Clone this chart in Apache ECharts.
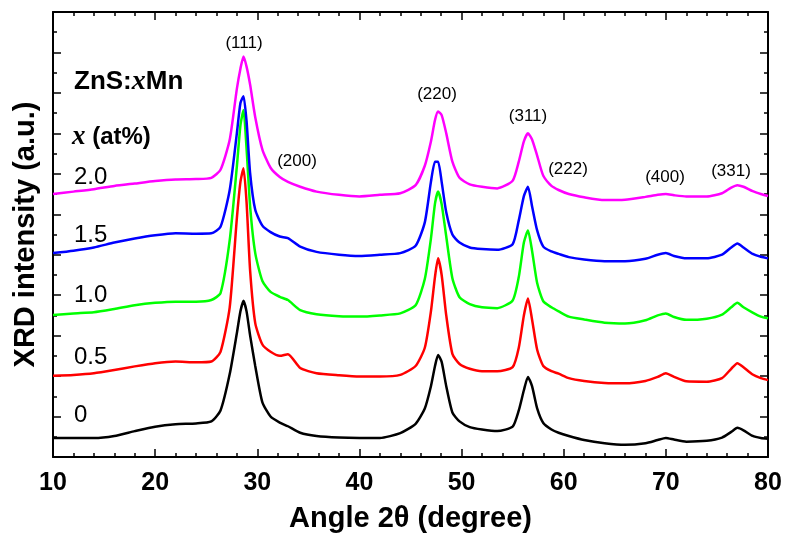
<!DOCTYPE html>
<html>
<head>
<meta charset="utf-8">
<script src="https://cdn.jsdelivr.net/npm/echarts@6/dist/echarts.min.js"></script>
<style>
	html, body { margin: 0; padding: 0; background: #fff; }
	#container { width: 788px; height: 541px; }
</style>
</head>
<body>
<div id="container"></div>
<script>
// 2θ 采样点 (degree)
var angles = [10, 12, 14, 16, 18, 20, 22, 24, 25.5, 26.4, 27.3, 28.0, 28.35, 28.65, 28.95, 29.3, 29.8, 30.5, 31.3, 32.2, 33.0, 34.2, 35.8, 38, 40,
	42, 44, 45.5, 46.4, 47.0, 47.4, 47.7, 48.05, 48.5, 49.1, 49.8, 50.8, 52, 53.5, 55.0, 55.6, 56.1, 56.5, 56.9, 57.4, 58.0, 58.8, 59.5, 60.5,
	62, 64, 66, 68, 69.2, 70.0, 70.8, 72, 74, 75.5, 76.4, 77.0, 77.6, 78.5, 79.3, 80];

// 各样品强度 (已加偏移, a.u.)
var mn0 = [0.47, 0.47, 0.47, 0.52, 0.64, 0.75, 0.81, 0.83, 0.88, 1.15, 2.05, 3.06, 3.6, 3.86, 3.6, 3.0, 2.25, 1.35, 1.0, 0.85, 0.76, 0.6, 0.52, 0.48, 0.47,
	0.47, 0.59, 0.82, 1.2, 1.75, 2.25, 2.52, 2.35, 1.75, 1.1, 0.88, 0.74, 0.68, 0.64, 0.75, 1.15, 1.65, 1.98, 1.75, 1.2, 0.84, 0.68, 0.6, 0.52,
	0.42, 0.34, 0.30, 0.34, 0.42, 0.47, 0.43, 0.38, 0.40, 0.48, 0.62, 0.72, 0.66, 0.52, 0.47, 0.45];
var mn05 = [2.01, 2.03, 2.07, 2.15, 2.24, 2.32, 2.36, 2.34, 2.36, 2.6, 3.7, 5.9, 6.8, 7.14, 6.3, 4.6, 3.31, 2.78, 2.6, 2.5, 2.54, 2.2, 2.07, 2.02, 1.99,
	1.99, 2.03, 2.25, 2.7, 3.6, 4.46, 4.91, 4.5, 3.5, 2.55, 2.3, 2.18, 2.12, 2.12, 2.22, 2.7, 3.5, 3.92, 3.4, 2.65, 2.25, 2.12, 2.06, 1.95,
	1.88, 1.83, 1.82, 1.88, 1.98, 2.07, 1.98, 1.87, 1.86, 1.95, 2.18, 2.32, 2.22, 2.04, 1.95, 1.9];
var mn10 = [3.51, 3.55, 3.58, 3.66, 3.75, 3.81, 3.84, 3.84, 3.88, 4.05, 5.36, 7.18, 8.2, 8.58, 7.62, 6.19, 5.04, 4.35, 4.08, 3.96, 3.88, 3.63, 3.53, 3.48, 3.47,
	3.5, 3.55, 3.75, 4.4, 5.4, 6.27, 6.56, 6.25, 5.45, 4.42, 3.95, 3.78, 3.7, 3.68, 3.87, 4.45, 5.3, 5.6, 5.1, 4.3, 3.85, 3.7, 3.6, 3.47,
	3.4, 3.32, 3.3, 3.38, 3.5, 3.55, 3.46, 3.39, 3.42, 3.52, 3.7, 3.81, 3.7, 3.57, 3.47, 3.43];
var mn15 = [5.04, 5.1, 5.18, 5.3, 5.4, 5.48, 5.53, 5.52, 5.53, 5.69, 6.6, 8.0, 8.75, 8.92, 8.3, 7.01, 6.11, 5.72, 5.56, 5.45, 5.41, 5.2, 5.07, 5.0, 4.97,
	5.0, 5.04, 5.22, 5.8, 6.8, 7.3, 7.3, 6.8, 6.05, 5.5, 5.3, 5.18, 5.14, 5.12, 5.26, 5.85, 6.45, 6.68, 6.2, 5.6, 5.2, 5.08, 5.02, 4.94,
	4.88, 4.84, 4.84, 4.9, 5.0, 5.04, 4.97, 4.91, 4.91, 5.0, 5.18, 5.28, 5.18, 5.02, 4.95, 4.91];
var mn20 = [6.5, 6.56, 6.62, 6.7, 6.76, 6.82, 6.86, 6.87, 6.9, 7.1, 7.84, 9.1, 9.6, 9.9, 9.65, 9.2, 8.4, 7.6, 7.15, 6.92, 6.8, 6.68, 6.56, 6.48, 6.44,
	6.48, 6.52, 6.72, 7.2, 7.8, 8.33, 8.54, 8.45, 8.0, 7.3, 6.9, 6.74, 6.68, 6.64, 6.83, 7.3, 7.8, 8.0, 7.85, 7.45, 6.95, 6.7, 6.6, 6.5,
	6.42, 6.35, 6.36, 6.43, 6.48, 6.5, 6.47, 6.44, 6.44, 6.52, 6.66, 6.72, 6.68, 6.57, 6.5, 6.45];

var sampleNames = ['0', '0.5', '1.0', '1.5', '2.0'];
var peakNames = ['(111)', '(200)', '(220)', '(311)', '(222)', '(400)', '(331)'];
var xTicks = [10, 20, 30, 40, 50, 60, 70, 80];

(function() {
	var myChart = echarts.init(document.getElementById('container'));
	var font = 'Liberation Sans, Arial, sans-serif';
	var colors = ['#000000', '#ff0000', '#00ff00', '#0000ff', '#ff00ff'];
	var curves = [mn0, mn05, mn10, mn15, mn20];

	// 组装曲线
	var series = curves.map(function(ys, i) {
		return {
			name: sampleNames[i],
			type: 'line',
			data: angles.map(function(a, k) { return [a, ys[k]]; }),
			showSymbol: false,
			smooth: 0.2,
			lineStyle: { color: colors[i], width: 2.5 },
			itemStyle: { color: colors[i] },
			z: 2 + i
		};
	});

	// 文字标注 (像素位置)
	var peakPos = [[244, 43], [297, 161], [437, 94], [528, 116], [568, 169], [665, 177], [731, 171]];
	var namePos = [415, 357, 295, 235, 177];
	var graphic = [];
	peakNames.forEach(function(t, i) {
		graphic.push({
			type: 'text', x: peakPos[i][0], y: peakPos[i][1],
			style: { text: t, font: '17px ' + font, fill: '#000', align: 'center', verticalAlign: 'middle' }
		});
	});
	sampleNames.forEach(function(t, i) {
		graphic.push({
			type: 'text', x: 74, y: namePos[i],
			style: { text: t, font: '24px ' + font, fill: '#000', align: 'left', verticalAlign: 'middle' }
		});
	});
	graphic.push({
		type: 'text', x: 74, y: 82,
		style: {
			text: '{b|ZnS:}{i|x}{b|Mn}', align: 'left', verticalAlign: 'middle',
			rich: {
				b: { font: 'bold 26px ' + font, fill: '#000' },
				i: { font: 'italic bold 28px Liberation Serif, serif', fill: '#000' }
			}
		}
	});
	graphic.push({
		type: 'text', x: 72, y: 137,
		style: {
			text: '{i|x}{b| (at%)}', align: 'left', verticalAlign: 'middle',
			rich: {
				b: { font: 'bold 24px ' + font, fill: '#000' },
				i: { font: 'italic bold 27px Liberation Serif, serif', fill: '#000' }
			}
		}
	});

	var axisLine = { show: true, onZero: false, lineStyle: { color: '#000', width: 2 } };
	var option = {
		animation: false,
		backgroundColor: '#fff',
		grid: { left: 53, right: 20, top: 12, bottom: 84, containLabel: false, outerBoundsMode: 'none' },
		xAxis: [{
			type: 'value', min: xTicks[0], max: xTicks[xTicks.length - 1], interval: 10,
			name: 'Angle 2θ (degree)', nameLocation: 'middle', nameGap: 47,
			nameTextStyle: { fontFamily: font, fontWeight: 'bold', fontSize: 29, color: '#000' },
			axisLine: axisLine,
			axisTick: { inside: true, length: 8, lineStyle: { color: '#000', width: 1.5 } },
			minorTick: { show: true, splitNumber: 5, length: 4, lineStyle: { color: '#000', width: 1.5 } },
			axisLabel: { fontFamily: font, fontWeight: 'bold', fontSize: 25, color: '#000', margin: 14 },
			splitLine: { show: false }
		}, {
			type: 'value', position: 'top', min: xTicks[0], max: xTicks[xTicks.length - 1], interval: 10,
			axisLine: axisLine,
			axisTick: { inside: true, length: 8, lineStyle: { color: '#000', width: 1.5 } },
			minorTick: { show: true, splitNumber: 5, length: 4, lineStyle: { color: '#000', width: 1.5 } },
			axisLabel: { show: false },
			splitLine: { show: false }
		}],
		yAxis: [{
			type: 'value', min: 0, max: 11, interval: 1,
			name: 'XRD intensity (a.u.)', nameLocation: 'middle', nameGap: 13,
			nameTextStyle: { fontFamily: font, fontWeight: 'bold', fontSize: 29, color: '#000' },
			axisLine: axisLine,
			axisTick: { inside: true, length: 8, lineStyle: { color: '#000', width: 1.5 } },
			minorTick: { show: true, splitNumber: 2, length: 4, lineStyle: { color: '#000', width: 1.5 } },
			axisLabel: { show: false },
			splitLine: { show: false }
		}, {
			type: 'value', position: 'right', min: 0, max: 11, interval: 1,
			axisLine: axisLine,
			axisTick: { inside: true, length: 8, lineStyle: { color: '#000', width: 1.5 } },
			minorTick: { show: true, splitNumber: 2, length: 4, lineStyle: { color: '#000', width: 1.5 } },
			axisLabel: { show: false },
			splitLine: { show: false }
		}],
		series: series,
		graphic: graphic
	};
	myChart.setOption(option);
})();
</script>
</body>
</html>
